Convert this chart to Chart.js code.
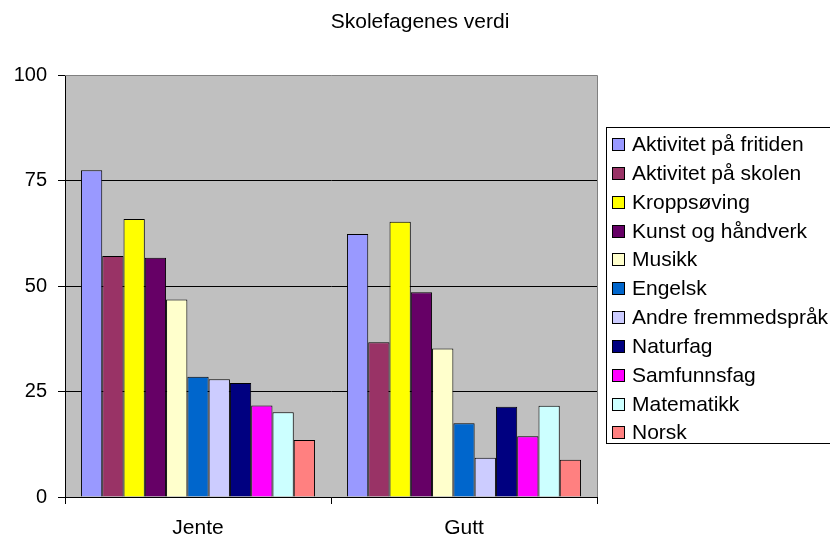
<!DOCTYPE html>
<html>
<head>
<meta charset="utf-8">
<script src="https://cdn.jsdelivr.net/npm/chart.js@4"></script>
<style>
  body { margin: 0; background: #fff; }
  canvas { display: block; }
</style>
</head>
<body>
<canvas id="chart" width="830" height="538"></canvas>
<script>
const categories = ['Jente', 'Gutt'];
const subjects = [
  'Aktivitet på fritiden', 'Aktivitet på skolen', 'Kroppsøving', 'Kunst og håndverk',
  'Musikk', 'Engelsk', 'Andre fremmedspråk', 'Naturfag', 'Samfunnsfag', 'Matematikk', 'Norsk'
];
const jente = [77.4, 57.1, 65.9, 56.7, 46.8, 28.5, 27.9, 27.0, 21.7, 20.1, 13.5];
const gutt = [62.3, 36.7, 65.2, 48.5, 35.2, 17.5, 9.3, 21.4, 14.4, 21.6, 8.8];
const colors = ['#9999FF', '#993366', '#FFFF00', '#660066', '#FFFFCC', '#0066CC',
  '#CCCCFF', '#000080', '#FF00FF', '#CCFFFF', '#FF8080'];
const yTicks = [0, 25, 50, 75, 100];

const FONT = '"Liberation Sans", Arial, sans-serif';

const plotBg = {
  id: 'plotBg',
  beforeDraw(chart) {
    const { ctx, chartArea: a } = chart;
    ctx.save();
    ctx.fillStyle = '#C0C0C0';
    ctx.fillRect(a.left, a.top, a.right - a.left, a.bottom - a.top);
    ctx.restore();
  },
  afterDatasetsDraw(chart) {
    const { ctx, chartArea: a } = chart;
    ctx.save();
    ctx.strokeStyle = '#808080';
    ctx.lineWidth = 1;
    ctx.beginPath();
    ctx.moveTo(a.left, a.top + 0.5);
    ctx.lineTo(a.right + 0.5, a.top + 0.5);
    ctx.lineTo(a.right + 0.5, a.bottom);
    ctx.stroke();
    ctx.restore();
  }
};

const titleAndLegend = {
  id: 'titleAndLegend',
  afterDraw(chart) {
    const ctx = chart.ctx;
    ctx.save();
    ctx.fillStyle = '#000';
    ctx.font = '21px ' + FONT;
    ctx.textAlign = 'center';
    ctx.textBaseline = 'alphabetic';
    ctx.fillText('Skolefagenes verdi', 420, 27.5);

    // legend box
    ctx.fillStyle = '#fff';
    ctx.fillRect(606, 127, 240, 316);
    ctx.strokeStyle = '#000';
    ctx.lineWidth = 1;
    ctx.strokeRect(606.5, 127.5, 240, 316);

    ctx.textAlign = 'left';
    chart.data.datasets.forEach((ds, i) => {
      const base = 151 + i * 28.84;
      const top = Math.round(base - 13);
      ctx.fillStyle = ds.backgroundColor;
      ctx.fillRect(612, top, 13, 13);
      ctx.strokeStyle = '#000';
      ctx.strokeRect(612.5, top + 0.5, 12, 12);
      ctx.fillStyle = '#000';
      ctx.fillText(ds.label, 632, base);
    });
    ctx.restore();
  }
};

new Chart(document.getElementById('chart'), {
  type: 'bar',
  data: {
    labels: categories,
    datasets: subjects.map((s, i) => ({
      label: s,
      data: [jente[i], gutt[i]],
      backgroundColor: colors[i],
      borderColor: '#000',
      borderWidth: 1,
      categoryPercentage: 0.88,
      barPercentage: 1
    }))
  },
  options: {
    responsive: false,
    devicePixelRatio: 1,
    animation: false,
    layout: { padding: { top: 75, right: 233, left: 0, bottom: 0 } },
    plugins: {
      legend: { display: false },
      title: { display: false },
      tooltip: { enabled: false }
    },
    scales: {
      x: {
        afterFit(scale) { scale.height = 41; },
        grid: {
          offset: true,
          drawOnChartArea: false,
          drawTicks: true,
          tickLength: 7,
          color: '#000',
          tickColor: '#000'
        },
        border: { color: '#000', width: 1 },
        ticks: { color: '#000', padding: 12, font: { family: FONT, size: 21 } }
      },
      y: {
        min: 0,
        max: 100,
        afterFit(scale) { scale.width = 65; },
        afterBuildTicks(scale) { scale.ticks = yTicks.map(v => ({ value: v })); },
        grid: {
          color: c => (c.tick && c.tick.value === 100) ? 'rgba(0,0,0,0)' : '#000',
          tickColor: '#000',
          tickLength: 7
        },
        border: { color: '#000', width: 1 },
        ticks: { color: '#000', padding: 11, font: { family: FONT, size: 20 } }
      }
    }
  },
  plugins: [plotBg, titleAndLegend]
});
</script>
</body>
</html>
